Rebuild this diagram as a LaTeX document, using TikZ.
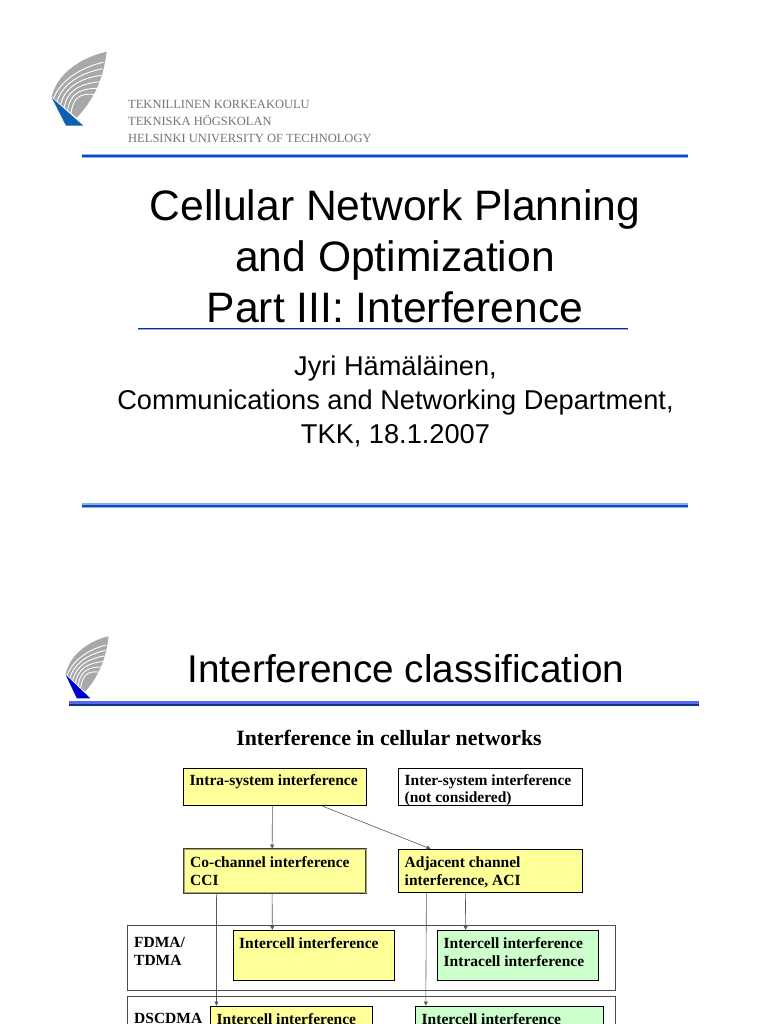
\documentclass[tikz,border=0pt]{standalone}
\usepackage{fontspec}
\setmainfont{Liberation Serif}
\setsansfont{Liberation Sans}
\usetikzlibrary{positioning,arrows.meta}
\definecolor{boxyellow}{HTML}{FFFF99}
\definecolor{boxgreen}{HTML}{CCFFCC}
\definecolor{rulemid}{HTML}{1048C0}
\definecolor{rulelight}{HTML}{8CB0EC}
\definecolor{logoblue}{HTML}{1060B0}
\definecolor{logogray}{HTML}{A8A8A8}
\tikzset{
  logo/.pic={
    \fill[logogray] (0,0) .. controls (5,-22) and (28,-39) .. (55,-45)
      .. controls (52,-22) and (45,0) .. (25,21) -- cycle;
    \foreach \k in {1,...,6}
      \draw[white,line width=0.9] (3.5*\k-2,3.5*\k-1) .. controls (4+2.8*\k,-14+1.5*\k) and (22+2*\k,-33+5*\k) .. (53-1.2*\k,-41+6.5*\k);
    \fill[pic actions] (0,1) -- (31.6,29) -- (14.3,29) -- cycle;
  }
}
\begin{document}
\begin{tikzpicture}[
  x=1pt, y=-1pt,
  titletext/.style={font=\sffamily\fontsize{42.6}{51}\selectfont, align=center, inner sep=0},
  subtext/.style={font=\sffamily\fontsize{27.2}{34}\selectfont, align=center, inner sep=0},
  hut/.style={font=\fontsize{12.5}{17.2}\selectfont\color{black!55}, align=left, inner sep=0, anchor=north west},
  block/.style={rectangle, draw, line width=0.8pt, anchor=north west, inner sep=0},
  frame/.style={rectangle, draw=black!70, line width=0.6pt, anchor=north west, inner sep=0},
  link/.style={-{Latex[length=4.5pt,width=4.5pt]}, draw=black!65, line width=0.6pt},
  sidetext/.style={font=\bfseries\fontsize{15.5}{17.7}\selectfont, align=left, inner sep=0, anchor=north west}
]
\useasboundingbox (0,0) rectangle (768,1024);
\clip (0,0) rectangle (768,1024);

% upper slide
\pic[logoblue] at (51.7,96.7) {logo};
\node[hut] (hut) at (128,100) {TEKNILLINEN KORKEAKOULU\\TEKNISKA HÖGSKOLAN\\HELSINKI UNIVERSITY OF TECHNOLOGY};
\fill[rulelight] (82,154) rectangle (688,158.5);
\fill[rulemid] (82,155.5) rectangle (688,157.5);
\node[titletext] (title) at (395,256.5) {Cellular Network Planning\\and Optimization\\Part III: Interference};
\fill[rulelight] (138,327.5) rectangle (628,329.5);
\fill[rulemid!70!black] (138,327.5) rectangle (628,328.7);
\node[subtext] (author) at (395.5,401) {Jyri Hämäläinen,\\Communications and Networking Department,\\TKK, 18.1.2007};
\fill[rulelight] (82,503) rectangle (688,507.5);
\fill[rulemid] (82,504.5) rectangle (688,506.5);

% lower slide
\pic[fill=blue!80!black, xscale=0.78, yscale=0.84] at (65.7,674) {logo};
\node[font=\sffamily\fontsize{38.7}{45}\selectfont, inner sep=0] (head) at (406,669) {Interference classification};
\fill[rulelight!60!blue] (69,700.5) rectangle (699,705);
\fill[rulemid!70!black] (69,704) rectangle (699,705.5);
\node[font=\bfseries\fontsize{21.8}{24}\selectfont, inner sep=0] (sub) at (389,738) {Interference in cellular networks};

\node[frame, minimum width=487.7pt, minimum height=65pt] (fdma) at (127.3,925) {};
\node[frame, minimum width=487.7pt, minimum height=65pt] (ds) at (127.3,995.5) {};
\node[sidetext] (fdmatext) at (134,937) {FDMA/\\TDMA};
\node[sidetext] (dstext) at (134,1013) {DSCDMA};

\node[block, fill=boxyellow, minimum width=182.4pt, minimum height=37.6pt] (intra) at (183.3,767.7) {};
\node[sidetext] (intratext) at (189.5,774) {Intra-system interference};
\node[block, fill=white, minimum width=183.4pt, minimum height=37.6pt] (inter) at (398.3,767.7) {};
\node[sidetext] (intertext) at (404.5,774) {Inter-system interference\\(not considered)};
\node[block, fill=boxyellow, double=boxyellow!65!black, draw=black!75, line width=0.5pt, double distance=1pt, minimum width=182pt, minimum height=43.5pt] (cci) at (183.8,849) {};
\node[sidetext] (ccitext) at (190,856.5) {Co-channel interference\\CCI};
\node[block, fill=boxyellow, minimum width=183.4pt, minimum height=43.3pt] (aci) at (398.3,849) {};
\node[sidetext] (acitext) at (404.5,856.5) {Adjacent channel\\interference, ACI};
\node[block, fill=boxyellow, minimum width=160.4pt, minimum height=49.7pt, line width=0.6pt] (fintra) at (233.3,930.3) {};
\node[sidetext] (fintratext) at (239,937.5) {Intercell interference};
\node[block, fill=boxgreen, minimum width=160.7pt, minimum height=49.7pt, line width=0.6pt] (faci) at (437,930.3) {};
\node[sidetext] (facitext) at (443.5,937.5) {Intercell interference\\Intracell interference};
\node[block, fill=boxyellow, minimum width=161.7pt, minimum height=50pt, line width=0.6pt] (dintra) at (210.3,1006) {};
\node[sidetext] (dintratext) at (216.5,1013) {Intercell interference};
\node[block, fill=boxgreen, minimum width=188pt, minimum height=50pt, line width=0.6pt] (daci) at (415,1006) {};
\node[sidetext] (dacitext) at (421.5,1013) {Intercell interference};

\draw[link] ([xshift=-2.5pt]intra.south) -- ([xshift=-2.9pt]cci.north);
\draw[link] ([xshift=47.5pt]intra.south) -- ([xshift=-59.5pt]aci.north);
\draw[link] ([xshift=-2.9pt]cci.south) -- ([xshift=-41.5pt]fintra.north);
\draw[link] ([xshift=-58.5pt]cci.south) -- ([xshift=-75pt]dintra.north);
\draw[link] ([xshift=-64pt]aci.south) -- ([xshift=-83.5pt]daci.north);
\draw[link] ([xshift=-25pt]aci.south) -- ([xshift=-52pt]faci.north);
\end{tikzpicture}
\end{document}
